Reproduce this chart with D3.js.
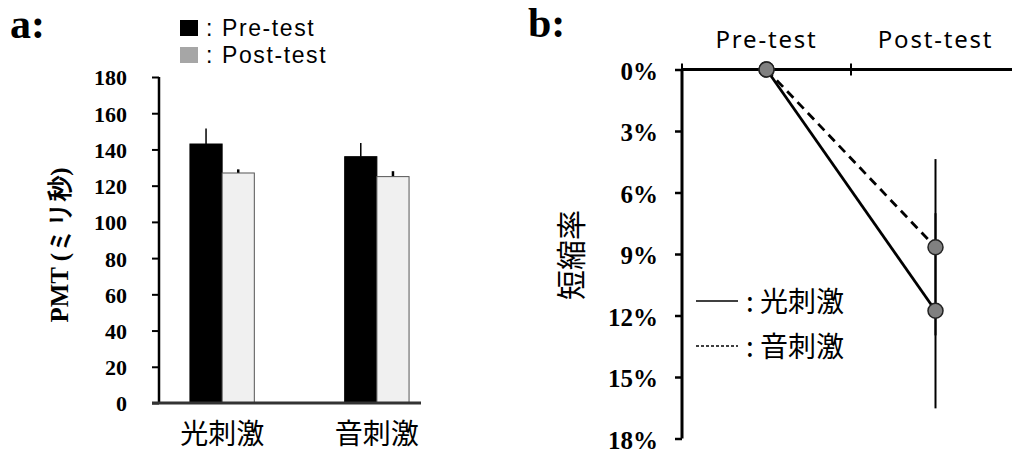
<!DOCTYPE html>
<html>
<head>
<meta charset="utf-8">
<script src="https://cdn.jsdelivr.net/npm/d3@7"></script>
<style>
  body { margin: 0; background: #fff; }
  svg { display: block; }
</style>
</head>
<body>
<svg id="chart" width="1012" height="452"></svg>
<script>
// panel a data
const stimuli = ["光刺激", "音刺激"];
const phases = ["Pre-test", "Post-test"];
const pmtMean = [[143, 127], [136, 125]];   // [stimulus][phase]
const pmtErr = [[8.5, 2], [7.5, 3]];
const pmtTicks = [0, 20, 40, 60, 80, 100, 120, 140, 160, 180];

// panel b data (shortening rate, %)
const shortMean = {"光刺激": [0, 11.77], "音刺激": [0, 8.67]};
const shortErr = {"光刺激": [0, 4.76], "音刺激": [0, 4.3]};
const rateTicks = [0, 3, 6, 9, 12, 15, 18];

const SERIF = '"Liberation Serif", "DejaVu Serif", serif';
const SANS = '"Noto Sans CJK JP", "Noto Sans", sans-serif';
const LATIN = '"Noto Sans", sans-serif';

const svg = d3.select("#chart");

// ---------- panel a ----------
const a = svg.append("g");
const ya = d3.scaleLinear().domain([0, 180]).range([403, 77]);
const xa = d3.scaleBand().domain(stimuli).range([159, 440]).paddingInner(0.584).paddingOuter(0.2);
const xin = d3.scaleBand().domain(phases).range([0, xa.bandwidth()]);
const barFill = {"Pre-test": "#000", "Post-test": "#f0f0f0"};

a.append("text").attr("x", 10).attr("y", 38)
  .style("font-family", SERIF).style("font-weight", "bold").style("font-size", "42px").text("a:");

// legend (Liberation Sans keeps the two tight lines from colliding)
const legA = a.append("g");
[["Pre-test", "#000"], ["Post-test", "#a6a6a6"]].forEach((d, i) => {
  legA.append("rect").attr("x", 180).attr("y", 20 + i * 27).attr("width", 18).attr("height", 16).attr("fill", d[1]);
  legA.append("text").attr("x", 206).attr("y", 36 + i * 27)
    .style("font-family", '"Liberation Sans", sans-serif').style("font-size", "23px").style("letter-spacing", "1.6px")
    .text(": " + d[0]);
});

const yAxisA = a.append("g").attr("transform", "translate(159,0)")
  .call(d3.axisLeft(ya).tickValues(pmtTicks).tickSize(7).tickPadding(25));
yAxisA.select(".domain").attr("stroke-width", 2.5).attr("d", "M0,77V403");
yAxisA.selectAll(".tick line").attr("stroke-width", 2);
yAxisA.selectAll(".tick text").attr("fill", "#000").attr("dy", "0.36em")
  .style("font-family", SERIF).style("font-weight", "bold").style("font-size", "22px");

// bars
const groups = a.selectAll(".grp").data(stimuli).join("g")
  .attr("transform", d => `translate(${xa(d)},0)`);
groups.each(function(s, si) {
  const g = d3.select(this);
  phases.forEach((p, pi) => {
    const v = pmtMean[si][pi], e = pmtErr[si][pi];
    const cx = xin(p) + xin.bandwidth() / 2;
    g.append("line").attr("x1", cx).attr("x2", cx).attr("y1", ya(v)).attr("y2", ya(v + e))
      .attr("stroke", "#000").attr("stroke-width", pi === 0 ? 1.5 : 2.5);
    g.append("rect").attr("x", xin(p)).attr("y", ya(v)).attr("width", xin.bandwidth())
      .attr("height", ya(0) - ya(v)).attr("fill", barFill[p])
      .attr("stroke", pi === 0 ? "#000" : "#555").attr("stroke-width", 1);
  });
});

// x axis
const xAxisA = a.append("g").attr("transform", "translate(0,403)")
  .call(d3.axisBottom(xa).tickSize(0).tickPadding(21));
xAxisA.select(".domain").attr("stroke", "#333").attr("stroke-width", 3).attr("d", "M152,0H421");
xAxisA.selectAll(".tick text").attr("fill", "#000")
  .style("font-family", SANS).style("font-size", "28px");

a.append("text").attr("transform", "translate(68,245) rotate(-90)").attr("text-anchor", "middle")
  .style("font-family", SERIF).style("font-weight", "bold").style("font-size", "25px")
  .text("PMT (ミリ秒)");

// ---------- panel b ----------
const b = svg.append("g");
const yb = d3.scaleLinear().domain([0, 18]).range([69.5, 438.5]);
const xb = d3.scaleBand().domain(phases).range([682, 1020]);
const px = p => xb(p) + xb.bandwidth() / 2;

b.append("text").attr("x", 528).attr("y", 37)
  .style("font-family", SERIF).style("font-weight", "bold").style("font-size", "42px").text("b:");

const yAxisB = b.append("g").attr("transform", "translate(682,0)")
  .call(d3.axisLeft(yb).tickValues(rateTicks).tickSize(7).tickPadding(17).tickFormat(d => d + "%"));
yAxisB.select(".domain").attr("stroke-width", 3).attr("d", "M0,69.5V438.5");
yAxisB.selectAll(".tick line").attr("stroke-width", 2.5);
yAxisB.selectAll(".tick text").attr("fill", "#000").attr("dy", "0.38em")
  .style("font-family", SERIF).style("font-weight", "bold").style("font-size", "25px");

const xAxisB = b.append("g").attr("transform", `translate(0,${yb(0)})`)
  .call(d3.axisTop(xb).tickValues([]).tickSizeOuter(0));
xAxisB.select(".domain").attr("stroke-width", 3).attr("d", "M682,0H1012");
// band boundary ticks
b.selectAll(".btick").data(phases).join("line")
  .attr("x1", d => xb(d)).attr("x2", d => xb(d))
  .attr("y1", yb(0) - 6).attr("y2", yb(0) + 6)
  .attr("stroke", "#000").attr("stroke-width", 2);
b.selectAll(".plabel").data(phases).join("text")
  .attr("x", d => px(d)).attr("y", 48).attr("text-anchor", "middle")
  .style("font-family", LATIN).style("font-size", "24px").style("letter-spacing", "1.8px")
  .text(d => d);

b.append("text").attr("transform", "translate(582,255) rotate(-90)").attr("text-anchor", "middle")
  .style("font-family", SANS).style("font-size", "30px")
  .text("短縮率");

// error bars
stimuli.forEach(s => {
  const v = shortMean[s][1], e = shortErr[s][1];
  b.append("line").attr("x1", px("Post-test")).attr("x2", px("Post-test"))
    .attr("y1", yb(v - e)).attr("y2", yb(v + e)).attr("stroke", "#000").attr("stroke-width", 2);
});

// lines
const lineGen = d3.line().x((d, i) => px(phases[i])).y(d => yb(d));
const dashes = {"光刺激": null, "音刺激": "9,6"};
stimuli.forEach(s => {
  b.append("path").attr("d", lineGen(shortMean[s])).attr("fill", "none")
    .attr("stroke", "#000").attr("stroke-width", 2.8).attr("stroke-dasharray", dashes[s]);
});
stimuli.forEach(s => {
  b.selectAll(null).data(shortMean[s]).join("circle")
    .attr("cx", (d, i) => px(phases[i])).attr("cy", d => yb(d)).attr("r", 7.5)
    .attr("fill", "#808080").attr("stroke", "#222").attr("stroke-width", 1.5);
});

// legend
const legB = b.append("g");
stimuli.forEach((s, i) => {
  const y = 301 + i * 45;
  legB.append("line").attr("x1", 696).attr("x2", 738).attr("y1", y).attr("y2", y)
    .attr("stroke", "#000").attr("stroke-width", 1.5).attr("stroke-dasharray", i ? "3,2" : null);
  legB.append("text").attr("x", 746).attr("y", y + 11)
    .style("font-family", SANS).style("font-size", "28px").text(": " + s);
});
</script>
</body>
</html>
